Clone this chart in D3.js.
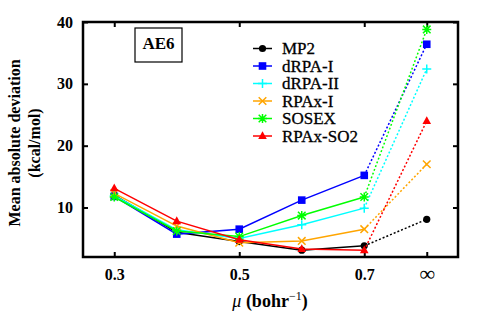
<!DOCTYPE html>
<html>
<head>
<meta charset="utf-8">
<script src="https://cdn.jsdelivr.net/npm/d3@7"></script>
<style>
  body { margin: 0; background: #fff; }
  svg text { font-family: "Liberation Serif", "DejaVu Serif", serif; }
</style>
</head>
<body>
<svg width="490" height="314"></svg>
<script>
// mu values (bohr^-1); the last point is mu = infinity, drawn at 0.8
var mu = [0.3, 0.4, 0.5, 0.6, 0.7, 0.8];
var xTicks = [0.3, 0.5, 0.7, 0.8];
var xTickLabels = ['0.3', '0.5', '0.7', '\u221e'];
var yTicks = [10, 20, 30, 40];

var mp2     = [12.0, 6.0, 4.5, 3.1, 3.8, 8.1];
var drpa1   = [11.8, 5.7, 6.5, 11.2, 15.2, 36.4];
var drpa2   = [11.9, 6.4, 5.0, 7.2, 9.9, 32.4];
var rpax1   = [12.3, 7.0, 4.3, 4.6, 6.5, 17.0];
var sosex   = [11.7, 6.2, 5.3, 8.7, 11.7, 38.8];
var rpaxso2 = [13.1, 7.8, 4.8, 3.3, 3.1, 24.0];

var series = [
    {name: 'MP2', vals: mp2, color: '#000000', mark: 'circle'},
    {name: 'dRPA-I', vals: drpa1, color: '#0000ff', mark: 'square'},
    {name: 'dRPA-II', vals: drpa2, color: '#00ffff', mark: 'plus'},
    {name: 'RPAx-I', vals: rpax1, color: '#ffa500', mark: 'cross'},
    {name: 'SOSEX', vals: sosex, color: '#00ff00', mark: 'star'},
    {name: 'RPAx-SO2', vals: rpaxso2, color: '#ff0000', mark: 'triangle'}
];

var pL = 83, pR = 458, pT = 22, pB = 257;

var svg = d3.select('svg');
var x = d3.scaleLinear().domain([0.25, 0.85]).range([pL, pR]);
var y = d3.scaleLinear().domain([2, 40]).range([pB, pT]);

// axes with inward ticks
svg.append('g').attr('transform', 'translate(0,' + pB + ')')
    .call(d3.axisBottom(x).tickValues(xTicks).tickSize(-5).tickPadding(12)
        .tickFormat(function(d, i){ return xTickLabels[i]; }));
svg.append('g').attr('transform', 'translate(0,' + pT + ')')
    .call(d3.axisTop(x).tickValues(xTicks).tickSize(-5).tickFormat(''));
svg.append('g').attr('transform', 'translate(' + pL + ',0)')
    .call(d3.axisLeft(y).tickValues(yTicks).tickSize(-5).tickPadding(10));
svg.append('g').attr('transform', 'translate(' + pR + ',0)')
    .call(d3.axisRight(y).tickValues(yTicks).tickSize(-5).tickFormat(''));

svg.selectAll('.domain').remove();
svg.selectAll('.tick line').attr('stroke', '#000').attr('stroke-width', 2);
svg.selectAll('.tick text').attr('fill', '#000').style('font-size', '16px')
    .style('font-family', '"Liberation Serif", serif').style('font-weight', 'bold');
svg.selectAll('.tick text').filter(function(d){ return d === 0.8; })
    .style('font-weight', 'normal').style('font-size', '22px').attr('dy', '0.55em');

svg.append('rect')
    .attr('x', pL).attr('y', pT)
    .attr('width', pR - pL).attr('height', pB - pT)
    .attr('fill', 'none').attr('stroke', '#000').attr('stroke-width', 2.5);

// marker drawing
function drawMark(g, type, color, cx, cy) {
    var m = g.append('g').attr('transform', 'translate(' + cx + ',' + cy + ')');
    if (type === 'circle') {
        m.append('circle').attr('r', 3.6).attr('fill', color);
    } else if (type === 'square') {
        m.append('rect').attr('x', -3.8).attr('y', -3.8).attr('width', 7.6).attr('height', 7.6).attr('fill', color);
    } else if (type === 'triangle') {
        m.append('path').attr('d', 'M0,-4.8L4.3,3L-4.3,3Z').attr('fill', color);
    } else {
        var d = '';
        if (type === 'plus' || type === 'star') d += 'M-4.5,0H4.5M0,-4.5V4.5';
        if (type === 'cross' || type === 'star') d += 'M-3.8,-3.8L3.8,3.8M-3.8,3.8L3.8,-3.8';
        m.append('path').attr('d', d).attr('stroke', color).attr('stroke-width', 1.5).attr('fill', 'none');
    }
}

var line = d3.line().x(function(d){ return x(d[0]); }).y(function(d){ return y(d[1]); });

series.forEach(function(s){
    var pts = s.vals.map(function(v, i){ return [mu[i], v]; });
    var g = svg.append('g');
    g.append('path').attr('d', line(pts.slice(0, 5)))
        .attr('fill', 'none').attr('stroke', s.color).attr('stroke-width', 1.5);
    g.append('path').attr('d', line(pts.slice(4)))
        .attr('fill', 'none').attr('stroke', s.color).attr('stroke-width', 1.5)
        .attr('stroke-dasharray', '2,2');
    pts.forEach(function(p){ drawMark(g, s.mark, s.color, x(p[0]), y(p[1])); });
});

// legend
var leg = svg.append('g');
series.forEach(function(s, i){
    var ly = 48.5 + i * 17.5;
    leg.append('line').attr('x1', 253).attr('x2', 272).attr('y1', ly).attr('y2', ly)
        .attr('stroke', s.color).attr('stroke-width', 1.5);
    drawMark(leg, s.mark, s.color, 262.5, ly);
    leg.append('text').attr('x', 282).attr('y', ly + 5.5).style('font-size', '17px')
        .attr('stroke', '#000').attr('stroke-width', 0.3).text(s.name);
});

// AE6 box
svg.append('rect').attr('x', 135).attr('y', 28).attr('width', 47).attr('height', 34)
    .attr('fill', '#fff').attr('stroke', '#000').attr('stroke-width', 1.2);
svg.append('text').attr('x', 158.5).attr('y', 48.5).attr('text-anchor', 'middle')
    .style('font-size', '17px').style('font-weight', 'bold').text('AE6');

// axis titles
var yl = svg.append('text').attr('transform', 'translate(20,143) rotate(-90)')
    .attr('text-anchor', 'middle').style('font-size', '16px').style('font-weight', 'bold');
yl.append('tspan').attr('x', 0).attr('dy', 0).text('Mean absolute deviation');
yl.append('tspan').attr('x', 0).attr('dy', 20).text('(kcal/mol)');

var xl = svg.append('text').attr('x', 270).attr('y', 307).attr('text-anchor', 'middle')
    .style('font-size', '18px');
xl.append('tspan').style('font-style', 'italic').text('\u03bc');
xl.append('tspan').style('font-weight', 'bold').text(' (bohr');
xl.append('tspan').attr('dy', -7).style('font-size', '12px').text('\u22121');
xl.append('tspan').attr('dy', 7).style('font-weight', 'bold').text(')');
</script>
</body>
</html>
